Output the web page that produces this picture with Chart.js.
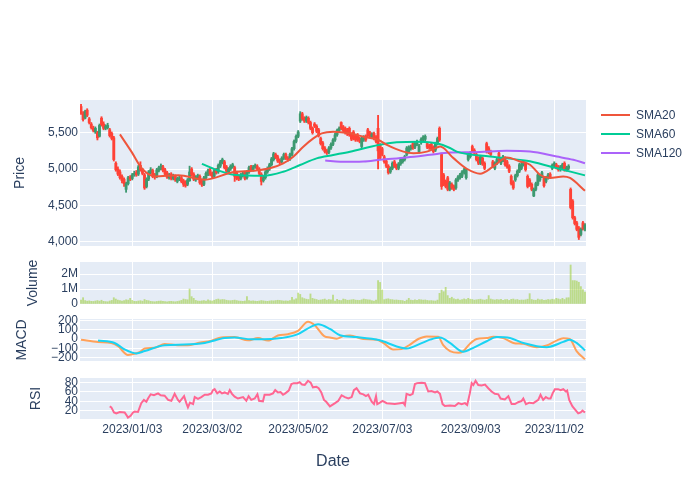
<!DOCTYPE html>
<html><head><meta charset="utf-8">
<script src="https://cdn.jsdelivr.net/npm/chart.js@4.4.0/dist/chart.umd.min.js"></script>
<style>
html,body{margin:0;padding:0;background:#fff;}
#wrap{position:relative;width:700px;height:500px;overflow:hidden;font-family:"Liberation Sans",Arial,sans-serif;}
canvas{position:absolute;left:0;top:0;}
.leg{position:absolute;left:601px;width:95px;height:14px;font-size:12px;color:#2a3f5f;}
.leg i{position:absolute;left:0;top:6px;width:29px;height:2px;}
.leg span{position:absolute;left:35px;top:0;line-height:14px;white-space:nowrap;}
</style></head><body>
<div id="wrap">
<canvas id="cPrice" width="700" height="500"></canvas>
<canvas id="cVol" width="700" height="500"></canvas>
<canvas id="cMacd" width="700" height="500"></canvas>
<canvas id="cRsi" width="700" height="500"></canvas>
<div class="leg" style="top:108px"><i style="background:#EF553B"></i><span>SMA20</span></div>
<div class="leg" style="top:127px"><i style="background:#00CC96"></i><span>SMA60</span></div>
<div class="leg" style="top:146px"><i style="background:#AB63FA"></i><span>SMA120</span></div>
</div>
<script>
// ---- data (x = trading-day index) ----
const openP = [
5860,5760,5700,5810,5690,5620,5560,5510,5500,5450,
5700,5620,5560,5570,5540,5490,5430,5080,5000,4960,
4900,4860,4720,4800,4890,4870,4920,4950,4930,5050,
4990,4920,4760,4860,4950,4980,4920,4900,4980,5000,
5030,4990,4950,4880,4930,4870,4900,4830,4860,4880,
4840,4820,4790,4840,5000,4930,4850,4880,4900,4830,
4790,4880,4930,4990,4940,4900,4990,4960,5040,5090,
5100,5030,4960,5000,5030,5020,4950,4900,4870,4910,
4950,4880,4960,5030,4990,5030,5040,5000,4930,4840,
4880,4960,5000,5060,5130,5200,5170,5120,5100,5150,
5200,5150,5140,5200,5280,5380,5450,5660,5760,5700,
5660,5700,5640,5560,5620,5590,5540,5420,5360,5290,
5250,5230,5290,5340,5400,5470,5530,5640,5580,5560,
5540,5560,5480,5510,5450,5470,5420,5310,5400,5450,
5540,5500,5440,5490,5440,5560,5330,5280,5170,5110,
5040,4960,5010,5100,5050,5010,5070,5100,5130,5200,
5240,5280,5350,5300,5340,5240,5360,5400,5410,5350,
5320,5340,5300,5260,5350,5560,5200,4920,4830,4880,
4720,4790,4760,4740,4850,4880,4900,4950,4880,5130,
5170,5310,5260,5200,5150,5080,5150,5080,5350,5290,
5240,5100,5010,5080,5220,5080,5120,5150,5100,5040,
4900,4820,4850,4910,4970,5010,5060,5080,4900,4850,
4790,4630,4720,4790,4850,4900,4880,4830,4880,4930,
5010,5040,5060,5030,4990,5020,5080,4990,5010,4720,
4560,4330,4260,4190,4100,4260,4170];
const highP = [
5890,5790,5810,5830,5710,5640,5590,5580,5520,5620,
5720,5650,5610,5630,5560,5510,5450,5100,5030,4990,
4920,4880,4820,4900,4910,4940,4970,4980,5050,5100,
5010,4940,4880,4980,5020,5000,4940,5010,5040,5070,
5050,5010,4970,4940,4950,4930,4920,4890,4900,4900,
4860,4840,4870,5040,5020,4950,4910,4930,4920,4850,
4900,4960,5000,5010,4960,5000,5010,5070,5120,5150,
5120,5050,5020,5060,5080,5040,4970,4920,4940,4960,
4970,4980,5040,5050,5050,5070,5060,5020,4950,4900,
4980,5030,5080,5160,5230,5220,5190,5140,5170,5220,
5220,5170,5220,5300,5400,5470,5530,5790,5780,5720,
5730,5720,5660,5580,5640,5610,5560,5440,5380,5310,
5270,5310,5360,5420,5490,5550,5580,5650,5600,5580,
5560,5580,5500,5530,5470,5490,5440,5440,5460,5470,
5560,5520,5500,5510,5460,5740,5350,5300,5190,5130,
5060,5030,5100,5120,5070,5090,5150,5160,5190,5310,
5320,5330,5370,5370,5400,5340,5430,5460,5470,5370,
5340,5360,5320,5370,5440,5580,5220,4940,4850,4900,
4830,4810,4780,4870,4910,4940,4980,5010,5010,5220,
5240,5330,5280,5220,5170,5190,5170,5100,5370,5310,
5260,5120,5100,5150,5240,5150,5190,5170,5120,5060,
4920,4840,4930,4990,5080,5080,5120,5100,4920,4870,
4810,4740,4820,4940,4920,4970,4900,4900,4940,4950,
5070,5100,5080,5050,5050,5080,5100,5040,5060,4740,
4580,4350,4280,4210,4190,4280,4250];
const lowP = [
5750,5660,5690,5720,5620,5550,5510,5490,5400,5440,
5590,5540,5540,5550,5440,5400,5110,4970,4910,4860,
4810,4760,4680,4780,4840,4850,4900,4900,4910,4970,
4920,4720,4740,4840,4930,4880,4860,4880,4960,4990,
4960,4910,4870,4860,4850,4850,4830,4810,4840,4810,
4760,4750,4770,4830,4900,4840,4830,4860,4790,4760,
4770,4860,4910,4910,4880,4880,4930,4940,5020,5070,
5000,4950,4940,4980,5010,4830,4850,4840,4850,4890,
4850,4860,4940,4970,4970,5010,4980,4920,4780,4820,
4860,4940,4980,5040,5110,5140,5090,5070,5080,5130,
5130,5110,5120,5180,5260,5360,5430,5640,5670,5640,
5640,5620,5540,5480,5570,5500,5440,5330,5260,5220,
5200,5210,5270,5320,5380,5450,5510,5540,5510,5480,
5460,5450,5390,5400,5380,5380,5360,5290,5380,5380,
5440,5430,5420,5400,5360,5000,5130,5180,5080,5020,
4930,4940,4990,5020,4990,4990,5050,5080,5110,5180,
5220,5260,5270,5280,5320,5220,5340,5380,5390,5280,
5270,5260,5220,5240,5330,5380,4720,4770,4740,4700,
4700,4720,4700,4720,4830,4860,4880,4930,4860,5110,
5150,5220,5200,5110,5060,5060,5050,4990,5220,5210,
5180,5020,4990,5060,5110,5060,5100,5040,5010,4950,
4780,4720,4830,4890,4950,4990,5040,4970,4740,4760,
4700,4620,4700,4770,4830,4880,4750,4810,4860,4870,
4990,5020,5000,4970,4970,5000,4970,4970,4990,4450,
4310,4230,4150,4030,4080,4160,4150];
const closeP = [
5770,5680,5790,5740,5640,5570,5530,5560,5430,5600,
5610,5560,5590,5600,5460,5420,5130,4990,4930,4880,
4840,4800,4800,4880,4860,4920,4940,4920,5030,4990,
4940,4740,4860,4960,4990,4900,4890,4990,5020,5040,
4980,4930,4890,4920,4870,4910,4850,4870,4880,4830,
4790,4770,4850,4960,4920,4860,4890,4910,4810,4780,
4880,4940,4980,4930,4900,4980,4950,5050,5100,5130,
5020,4970,5000,5040,5060,4900,4870,4860,4920,4940,
4870,4960,5020,4990,5030,5050,5000,4940,4830,4880,
4960,5010,5060,5140,5210,5160,5110,5090,5150,5200,
5150,5130,5200,5280,5380,5450,5510,5760,5690,5660,
5710,5640,5560,5500,5590,5520,5460,5350,5280,5240,
5220,5290,5340,5400,5470,5530,5560,5560,5530,5500,
5480,5470,5410,5420,5400,5400,5380,5420,5440,5400,
5460,5450,5480,5420,5380,5250,5150,5200,5100,5040,
4950,5010,5080,5040,5010,5070,5130,5140,5170,5290,
5300,5310,5290,5350,5380,5320,5410,5440,5450,5300,
5290,5280,5240,5350,5420,5400,4760,4790,4760,4720,
4810,4740,4720,4850,4890,4920,4960,4990,4990,5200,
5220,5240,5220,5130,5080,5170,5070,5010,5240,5230,
5200,5040,5080,5130,5130,5130,5170,5060,5030,4970,
4800,4740,4910,4970,5060,5060,5100,4990,4760,4780,
4720,4720,4800,4920,4900,4950,4770,4880,4920,4890,
5050,5080,5020,4990,5030,5060,4990,5020,5040,4470,
4330,4250,4170,4060,4170,4180,4230];
// volume in thousands of shares
const volumeK = [
260,420,230,190,210,180,170,200,230,190,
250,180,160,150,200,240,420,330,260,220,
200,230,280,260,380,240,180,170,200,220,
190,300,240,220,180,160,150,170,190,200,
170,160,150,170,180,160,150,170,200,240,
330,300,280,1000,490,380,240,200,190,210,
230,200,270,220,200,250,300,330,280,300,
290,250,230,220,240,260,230,200,190,180,
200,490,220,200,210,190,180,200,230,210,
190,180,200,220,210,230,250,240,220,200,
210,190,220,440,280,350,730,640,420,360,
320,300,670,380,330,300,250,270,300,330,
260,300,280,600,200,310,250,230,330,300,
250,260,280,300,260,250,240,280,330,300,
280,270,220,200,260,1560,1440,930,290,330,
350,300,290,260,270,250,240,230,180,260,
380,260,240,280,250,300,280,260,270,240,
220,230,210,200,260,710,930,820,1110,560,
380,450,350,300,330,260,300,340,300,380,
320,300,260,280,300,320,280,260,300,560,
330,290,270,300,280,310,250,290,300,240,
310,330,280,300,250,270,260,280,320,690,
300,260,250,330,280,290,240,260,300,280,
320,290,380,340,300,380,300,410,420,2600,
1560,1560,1530,1450,1160,960,800];
// moving averages (day index, value)
const sma20Day = [19,24.6,29.6,36.1,47.5,60.5,74.5,84.2,92.2,98.7,103.6,108.5,113.4,117.5,123.1,131.3,137.9,145.2,149.3,157.4,162.3,168.8,173.6,175.3,181.8,188.3,194.8,201.3,207.8,214.3,219.2,224,228.9,235.4,238.7,246];
const sma20 = [5477,5240,5013,4899,4913,4854,4959,4977,5010,5078,5170,5307,5422,5491,5514,5491,5445,5400,5332,5240,5218,5240,5295,5309,5150,5004,4936,5036,5159,5104,5059,4922,4877,4899,4877,4700];
const sma60Day = [59,66,74.5,89.1,98.7,106.9,115,123.1,131.3,145.2,154.1,165.5,173.6,180.1,183.4,199.7,217.6,229,246];
const sma60 = [5072,4990,4922,4908,4963,5055,5147,5193,5239,5332,5368,5377,5354,5290,5240,5172,5113,5036,4913];
const sma120Day = [119.2,126.5,137.9,146,159,170.4,180.1,191.5,207.8,219.2,232.2,240.3,246];
const sma120 = [5118,5100,5104,5127,5159,5195,5227,5231,5250,5240,5172,5127,5080];
const macdDay = [0,8.3,14.8,18.1,22.9,25.4,28.6,31.1,36,40.8,47.3,52.2,57.1,63.6,68.5,75,81.5,86.4,91.3,96.1,101,105.9,110.8,114,118.9,121.5,124.8,128,131.3,137.8,144.3,147.5,152.4,156.5,160.6,164.6,168.7,174.4,176.8,180.1,184.2,186.6,189.8,193.1,198,201.2,206.1,211,215.9,222.4,227.3,232.1,235.4,238.6,241.9,246];
const macd = [-7,-31,-42,-77,-171,-161,-140,-101,-94,-52,-66,-66,-42,-17,17,21,-14,10,-17,38,52,87,185,150,28,17,3,31,38,0,-7,-42,-112,-108,-59,0,28,24,-66,-129,-147,-129,-52,0,10,24,10,-42,-52,-87,-70,-17,7,0,-129,-217];
const signalDay = [8.3,16.4,21.3,27,31.1,40.8,50.6,60.4,70.1,75,83.1,92.9,97.8,105.9,112.4,115.7,121.5,126.4,134.5,145.9,154.1,158.9,165.4,170.3,175.2,180.1,186.6,191.5,198,202.9,209.4,215.9,227.3,235.4,238.6,241.9,246];
const signal = [-17,-42,-112,-154,-129,-66,-59,-42,10,17,-3,0,10,52,133,157,108,40,21,-14,-80,-101,-52,-7,17,-42,-136,-94,-24,21,10,-42,-87,-31,-7,-42,-122];
const rsiDay = [14,14.8,16.1,17.2,18.9,21.3,22.1,22.9,24.2,25.4,26.2,27.8,29.4,30.7,31.9,32.7,34,35.6,37.6,38.9,40.8,42.5,44.1,45.7,47.3,48.1,50.3,51.4,52.2,53.2,54.7,55.5,57.1,58.7,60.4,62,63.6,64.4,65.2,66.5,67.7,68.8,70.1,71.7,72.6,73.7,75,76.6,79.1,80.7,81.8,83.1,84.8,86.1,86.9,88.8,89.6,92.1,93.7,94.8,96.1,97.4,98.6,99.7,101.4,102.7,103.9,105.6,106.7,107.9,109.2,110.8,112.1,113.2,114.9,116,117.3,118.6,119.7,121.5,124,125.6,127.2,128.8,130.5,132.1,133.2,134.5,136.2,137.8,139.1,140.2,141.9,143,144,144.6,145.9,147.2,149.2,153.2,155.7,157.3,158.1,158.9,160.6,161.9,163,164.1,166.3,167.9,169.5,171.1,172.8,173.9,175.2,176.5,177.6,180.1,182.5,184.2,185.8,187.4,188.5,189.8,190.7,191.5,192.6,193.9,195.5,197.2,198.8,200.4,202,203.7,204.8,206.9,208.6,210.2,211.8,213.4,215.1,215.9,217.2,218.8,220.8,223.2,224.3,225.6,226.9,228.1,229.2,230.2,231.3,232.9,234.1,235.4,236.7,237.3,238.3,239.9,241.6,242.7,243.9,244.8,246];
const rsi = [29,27,16,14,17,16,11,5,9,16,18,17,36,43,39,46,55,53,57,53,52,43,41,56,43,39,51,36,27,37,34,49,45,49,54,54,57,64,66,57,61,57,59,56,64,56,50,46,49,41,51,43,46,55,41,40,54,54,57,64,59,60,54,57,63,77,79,79,81,76,75,84,80,70,71,68,59,43,39,29,36,41,53,49,46,49,64,68,57,55,51,54,39,34,51,34,37,41,36,34,36,37,32,56,53,56,77,79,80,79,61,62,59,61,56,34,30,31,30,36,34,36,32,57,79,75,84,75,74,76,68,61,56,55,46,44,51,34,34,38,41,46,34,37,36,43,54,43,49,46,46,57,66,66,64,66,61,63,43,29,20,14,16,20,16];
// axis ticks
const xTickPos = [25.04,64.1,106.07,147.08,190.2,231.0];
const xTickLabels = ['2023/01/03','2023/03/02','2023/05/02','2023/07/03','2023/09/03','2023/11/02'];
const priceTicks = [4000,4500,5000,5500], priceTickLabels = ['4,000','4,500','5,000','5,500'];
const volTicks = [0,1000,2000], volTickLabels = ['0','1M','2M'];
const macdTicks = [-200,-100,0,100,200], macdTickLabels = ['\u2212200','\u2212100','0','100','200'];
const rsiTicks = [20,40,60,80], rsiTickLabels = ['20','40','60','80'];

// ---- drawing ----
const FONT = '"Liberation Sans", Arial, sans-serif';
const TXT = '#2a3f5f';
const INC = '#3D9970', DEC = '#FF4136';
const N = closeP.length;
const pts = (xs, ys) => xs.map((x, i) => ({x: x, y: ys[i]}));

const bgPlugin = {id: 'bg', beforeDraw(c) {
  const a = c.chartArea, ctx = c.ctx;
  ctx.save(); ctx.fillStyle = '#E5ECF6';
  ctx.fillRect(a.left, a.top, a.right - a.left, a.bottom - a.top); ctx.restore();
}};

function xAxis(show) {
  return {
    type: 'linear', min: -0.5, max: N - 0.5, offset: false, bounds: 'data',
    grid: {color: '#ffffff', lineWidth: 1, drawTicks: false, offset: false},
    border: {display: false},
    ticks: {display: show, autoSkip: false, maxRotation: 0, padding: 3, color: TXT,
            font: {family: FONT, size: 12}, callback: (v, i) => xTickLabels[i]},
    afterBuildTicks: s => { s.ticks = xTickPos.map(v => ({value: v})); },
    title: {display: show, text: 'Date', color: TXT, font: {family: FONT, size: 16}, padding: {top: 4, bottom: 4}},
    afterFit: s => { s.height = show ? 56 : 0; }
  };
}
function yAxis(min, max, ticks, labels, title, padLeft) {
  return {
    type: 'linear', position: 'left', min: min, max: max, bounds: 'data',
    grid: {color: '#ffffff', lineWidth: 1, drawTicks: false},
    border: {display: false},
    ticks: {autoSkip: false, padding: 2, color: TXT, font: {family: FONT, size: 12},
            callback: (v, i) => labels[i]},
    afterBuildTicks: s => { s.ticks = ticks.map(v => ({value: v})); },
    title: {display: true, text: title, color: TXT, font: {family: FONT, size: 14}, padding: {top: 4, bottom: 4}},
    afterFit: s => { s.width = 80 - padLeft; }
  };
}
function make(id, datasets, y, padLeft, top, bottom, showX) {
  return new Chart(document.getElementById(id), {
    type: 'bar',
    data: {datasets: datasets},
    options: {
      responsive: false, animation: false, devicePixelRatio: 1, events: [],
      layout: {padding: {left: padLeft, right: 114, top: top, bottom: bottom}},
      plugins: {legend: {display: false}, tooltip: {enabled: false}},
      scales: {x: xAxis(showX), y: y}
    },
    plugins: [bgPlugin]
  });
}
const lineDs = (data, color, extra) => Object.assign({type: 'line', data: data, borderColor: color,
  borderWidth: 2, pointRadius: 0, fill: false, order: 0}, extra || {});
const candleColors = closeP.map((c, i) => c >= openP[i] ? INC : DEC);

make('cPrice', [
  lineDs(pts(sma20Day, sma20), '#EF553B', {cubicInterpolationMode: 'monotone'}),
  lineDs(pts(sma60Day, sma60), '#00CC96', {cubicInterpolationMode: 'monotone'}),
  lineDs(pts(sma120Day, sma120), '#AB63FA', {cubicInterpolationMode: 'monotone'}),
  {type: 'bar', data: closeP.map((c, i) => ({x: i, y: [openP[i], c]})), backgroundColor: candleColors,
   barThickness: 2.2, grouped: false, order: 1},
  {type: 'bar', data: closeP.map((c, i) => ({x: i, y: [lowP[i], highP[i]]})), backgroundColor: candleColors,
   barThickness: 1.2, grouped: false, order: 2}
], yAxis(3941, 5950, priceTicks, priceTickLabels, 'Price', 8), 8, 100, 254, false);

make('cVol', [
  {type: 'bar', data: volumeK.map((v, i) => ({x: i, y: v})), backgroundColor: 'rgba(154,205,50,0.55)',
   barThickness: 1.2, grouped: false}
], yAxis(0, 2800, volTicks, volTickLabels, 'Volume', 21), 21, 262, 196, false);

make('cMacd', [
  lineDs(pts(signalDay, signal), '#19D3F3', {cubicInterpolationMode: 'monotone'}),
  lineDs(pts(macdDay, macd), '#FFA15A', {cubicInterpolationMode: 'monotone', order: 1})
], yAxis(-235, 214, macdTicks, macdTickLabels, 'MACD', 10), 10, 319, 139, false);

make('cRsi', [
  lineDs(pts(rsiDay, rsi), '#FF6692', {tension: 0})
], yAxis(2, 90, rsiTicks, rsiTickLabels, 'RSI', 23.5), 23.5, 378, 25, true);
</script>
</body></html>
